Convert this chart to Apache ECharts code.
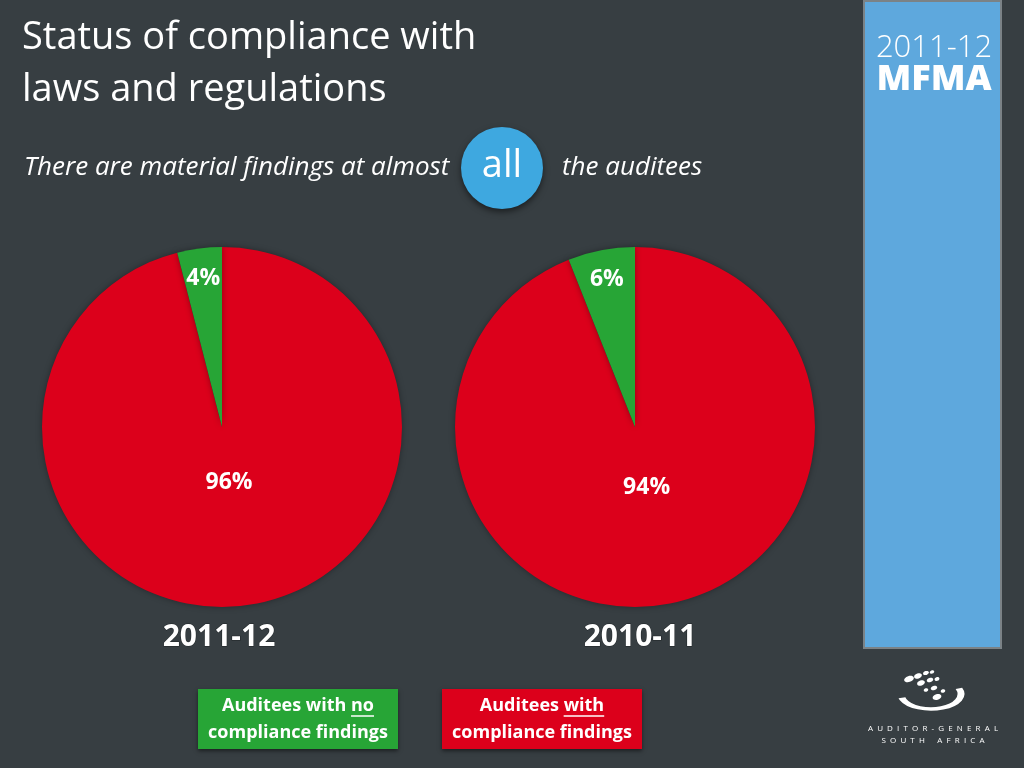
<!DOCTYPE html>
<html>
<head>
<meta charset="utf-8">
<script src="https://cdn.jsdelivr.net/npm/echarts@6/dist/echarts.min.js"></script>
<style>
  html, body { margin: 0; padding: 0; background: #373e42; }
  #chart { width: 1024px; height: 768px; }
</style>
</head>
<body>
<div id="chart"></div>
<script>
// data
const years = ['2011-12', '2010-11'];
const withFindings = [96, 94];
const noFindings = [4, 6];
const sliceNames = ['Auditees with compliance findings', 'Auditees with no compliance findings'];
const sliceColors = ['#dc001b', '#27a536'];

const pieCenters = [[222, 427], [635, 427]];
const pieRadius = 180;
const labelFont = '"Open Sans", "Noto Sans", sans-serif';

const chart = echarts.init(document.getElementById('chart'));

// text width, only used to place the underlines in the legend boxes
const measureCtx = document.createElement('canvas').getContext('2d');
const textWidth = (txt, font) => { measureCtx.font = font; return measureCtx.measureText(txt).width; };

// one visible pie plus two transparent rings that only carry the labels
const series = [];
years.forEach((year, i) => {
  const data = [
    { name: sliceNames[0], value: withFindings[i] },
    { name: sliceNames[1], value: noFindings[i] }
  ];
  const base = {
    type: 'pie',
    center: pieCenters[i],
    startAngle: 90,
    clockwise: true,
    data: data,
    labelLine: { show: false },
    emphasis: { disabled: true },
    animation: false
  };
  const lbl = {
    show: true,
    position: 'inside',
    color: '#fff',
    fontWeight: 'bold',
    fontSize: 23,
    fontFamily: labelFont
  };
  series.push(Object.assign({}, base, {
    radius: [0, pieRadius],
    itemStyle: {
      color: (p) => sliceColors[p.dataIndex],
      shadowColor: 'rgba(0,0,0,0.35)',
      shadowBlur: 6
    },
    label: { show: false }
  }));
  // small slice label near the rim
  series.push(Object.assign({}, base, {
    radius: [114, pieRadius],
    silent: true,
    itemStyle: { color: 'transparent' },
    label: Object.assign({}, lbl, { formatter: (p) => p.dataIndex === 1 ? p.value + '%' : '' })
  }));
  // big slice label close to the centre
  series.push(Object.assign({}, base, {
    radius: [0, i === 0 ? 106 : 118],
    silent: true,
    itemStyle: { color: 'transparent' },
    label: Object.assign({}, lbl, { formatter: (p) => p.dataIndex === 0 ? p.value + '%' : '' })
  }));
});

const yearLabels = years.map((y, i) => ({
  type: 'text',
  x: i === 0 ? 219 : 640,
  y: 637,
  style: {
    text: y,
    fill: '#fff',
    font: 'bold 30px ' + labelFont,
    align: 'center',
    verticalAlign: 'middle',
    stroke: '#1e2326',
    lineWidth: 1,
    shadowColor: 'rgba(0,0,0,0.6)',
    shadowBlur: 3,
    shadowOffsetX: 1,
    shadowOffsetY: 1
  }
}));

const legendFont = 'bold 18px ' + labelFont;
// line1 = [before, underlined]
const legendBox = (x, color, line1, line2) => {
  const full = line1[0] + line1[1];
  const start = x + 100 - textWidth(full, legendFont) / 2 + textWidth(line1[0], legendFont);
  const ulw = textWidth(line1[1], legendFont);
  return [
    {
      type: 'rect',
      shape: { x: x, y: 689, width: 200, height: 60 },
      style: { fill: color, shadowColor: 'rgba(0,0,0,0.5)', shadowBlur: 4, shadowOffsetY: 2 }
    },
    {
      type: 'text', x: x + 100, y: 706,
      style: { text: full, fill: '#fff', font: legendFont, align: 'center', verticalAlign: 'middle' }
    },
    {
      type: 'text', x: x + 100, y: 733,
      style: { text: line2, fill: '#fff', font: legendFont, align: 'center', verticalAlign: 'middle' }
    },
    {
      type: 'line',
      shape: { x1: start, y1: 716, x2: start + ulw, y2: 716 },
      style: { stroke: '#fff', lineWidth: 1.5 }
    }
  ];
};

const logoDots = [
  [909, 679, 5, 3], [918, 676, 4, 2.5], [926, 673, 3, 2], [932, 672, 2.3, 1.7],
  [921, 683, 4, 2.6], [930, 680, 3.3, 2.2], [937, 679, 2.5, 1.9],
  [926, 690, 2.3, 1.8], [934, 688, 3.3, 2.2], [943, 691, 2.3, 1.8], [937, 697, 4.5, 2.8]
];

chart.setOption({
  backgroundColor: '#373e42',
  series: series,
  graphic: [
    // title
    {
      type: 'text', x: 22, y: 12,
      style: {
        text: 'Status of compliance with\nlaws and regulations',
        fill: '#fff',
        font: '400 38px ' + labelFont,
        lineHeight: 52
      }
    },
    {
      type: 'text', x: 24, y: 168,
      style: {
        text: 'There are material findings at almost',
        fill: '#fff',
        font: 'italic 26px ' + labelFont,
        verticalAlign: 'middle'
      }
    },
    {
      type: 'circle',
      shape: { cx: 502, cy: 168, r: 41 },
      style: { fill: '#3ea8e0', shadowColor: 'rgba(0,0,0,0.5)', shadowBlur: 6, shadowOffsetY: 3 }
    },
    {
      type: 'text', x: 502, y: 166,
      style: { text: 'all', fill: '#fff', font: '38px ' + labelFont, align: 'center', verticalAlign: 'middle' }
    },
    {
      type: 'text', x: 562, y: 168,
      style: { text: 'the auditees', fill: '#fff', font: 'italic 26px ' + labelFont, verticalAlign: 'middle' }
    },
    // side panel
    {
      type: 'rect',
      shape: { x: 864, y: 1, width: 137, height: 647 },
      style: { fill: '#5ea8dd', stroke: '#7b8286', lineWidth: 2 }
    },
    {
      type: 'text', x: 934, y: 48,
      style: { text: '2011-12', fill: '#fff', font: '300 31px ' + labelFont, align: 'center', verticalAlign: 'middle' }
    },
    {
      type: 'text', x: 934, y: 80,
      style: { text: 'MFMA', fill: '#fff', font: '800 36px ' + labelFont, align: 'center', verticalAlign: 'middle' }
    },
    ...yearLabels,
    ...legendBox(198, sliceColors[1], ['Auditees with ', 'no'], 'compliance findings'),
    ...legendBox(442, sliceColors[0], ['Auditees ', 'with'], 'compliance findings'),
    // logo
    ...logoDots.map(d => ({
      type: 'ellipse',
      shape: { cx: d[0], cy: d[1], rx: d[2], ry: d[3] },
      rotation: 0.3,
      originX: d[0],
      originY: d[1],
      style: { fill: '#fff' }
    })),
    {
      type: 'arc',
      shape: { cx: 931, cy: 694, r: 30, startAngle: -Math.PI * 0.12, endAngle: Math.PI * 0.92 },
      scaleY: 0.5,
      originY: 694,
      style: { stroke: '#fff', lineWidth: 7, fill: null }
    },
    {
      type: 'text', x: 933, y: 729,
      style: { text: 'A  U  D  I  T  O  R  -  G  E  N  E  R  A  L', fill: '#fff', font: '8px ' + labelFont, align: 'center', verticalAlign: 'middle' }
    },
    {
      type: 'text', x: 933, y: 741,
      style: { text: 'S  O  U  T  H      A  F  R  I  C  A', fill: '#fff', font: '8px ' + labelFont, align: 'center', verticalAlign: 'middle' }
    }
  ]
});
</script>
</body>
</html>
